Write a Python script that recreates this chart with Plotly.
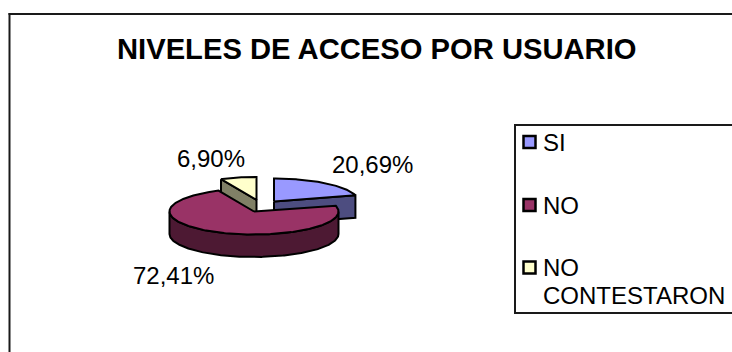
import math
import plotly.graph_objects as go

# Survey answers on access levels, in percent
categories = ["SI", "NO", "NO CONTESTARON"]
values = [20.69, 72.41, 6.90]
value_labels = ["20,69%", "72,41%", "6,90%"]
title_text = "NIVELES DE ACCESO POR USUARIO"

# Styling per slice: top face and side wall
top_colors = ["#9999FF", "#993366", "#FFFFCC"]
side_colors = ["#4D4D80", "#4D1933", "#808066"]

# Projection of the pie disc in page pixels
RX, RY, DEPTH = 84.5, 23, 22.5
# Slice apex after the explode offset
APEX = {"SI": (274, 201.5), "NO": (254, 211.5), "NO CONTESTARON": (256.5, 200)}
LINE = dict(color="black", width=2)


def rim(cx, cy, a0, a1, dy=0.0):
    """Points on the elliptical rim; angles run clockwise from 12 o'clock."""
    n = max(2, int(abs(a1 - a0)) + 1)
    angles = [math.radians(a0 + (a1 - a0) * i / (n - 1)) for i in range(n)]
    return ([cx + RX * math.sin(a) for a in angles],
            [cy - RY * math.cos(a) + dy for a in angles])


def polygon(xs, ys, color):
    return go.Scatter(x=xs + xs[:1], y=ys + ys[:1], mode="lines", fill="toself",
                      fillcolor=color, line=LINE, hoverinfo="skip", showlegend=False)


# Accumulate slice angles from the values
spans = {}
start = 0.0
for name, v in zip(categories, values):
    end = start + v / sum(values) * 360
    spans[name] = (start, end)
    start = end

fig = go.Figure()

# Yellow slice: cut face first, then top
name = "NO CONTESTARON"
a0, a1 = spans[name]
cx, cy = APEX[name]
xs, ys = rim(cx, cy, a0, a0 + 0.001)
fig.add_trace(polygon([xs[0], cx, cx, xs[0]], [ys[0], cy, cy + DEPTH, ys[0] + DEPTH], side_colors[2]))
xs, ys = rim(cx, cy, a0, a1)
fig.add_trace(polygon([cx] + xs, [cy] + ys, top_colors[2]))

# Blue slice: cut face plus outer wall, then top
name = "SI"
a0, a1 = spans[name]
cx, cy = APEX[name]
xs, ys = rim(cx, cy, a1, a1 + 0.001)
fig.add_trace(polygon([cx, xs[0], xs[0], cx], [cy, ys[0], ys[0] + DEPTH, cy + DEPTH], side_colors[0]))
xs, ys = rim(cx, cy, a0, a1)
fig.add_trace(polygon([cx] + xs, [cy] + ys, top_colors[0]))

# Large slice: front wall, then top
name = "NO"
a0, a1 = spans[name]
cx, cy = APEX[name]
xs, ys = rim(cx, cy, 90, 270)
xb, yb = rim(cx, cy, 270, 90, DEPTH)
fig.add_trace(polygon(xs + xb, ys + yb, side_colors[1]))
xs, ys = rim(cx, cy, a0, a1)
fig.add_trace(polygon([cx] + xs, [cy] + ys, top_colors[1]))

# Legend keys
key_y = [142, 205, 267.5]
fig.add_trace(go.Scatter(
    x=[529.5] * 3, y=key_y, mode="markers", hoverinfo="skip", showlegend=False,
    marker=dict(symbol="square", size=12, color=top_colors, line=dict(color="black", width=2.5)),
))

FONT = "Liberation Sans, Arial, sans-serif"
annotations = [
    dict(x=372.5, y=164, text=value_labels[0]),
    dict(x=173.5, y=275, text=value_labels[1]),
    dict(x=210.5, y=158, text=value_labels[2]),
]
for a in annotations:
    a.update(xanchor="center", yanchor="middle")
annotations += [
    dict(x=541, y=142, text=categories[0], xanchor="left", yanchor="middle"),
    dict(x=541, y=205, text=categories[1], xanchor="left", yanchor="middle"),
    dict(x=541, y=267.5, text="NO", xanchor="left", yanchor="middle"),
    dict(x=541, y=295, text="CONTESTARON", xanchor="left", yanchor="middle"),
    dict(x=377, y=49, text="<b>%s</b>" % title_text, xanchor="center", yanchor="middle",
         font=dict(size=29.2, color="black", family=FONT)),
]
for a in annotations:
    a.setdefault("font", dict(size=24, color="black", family=FONT))
    a.update(showarrow=False, xref="x", yref="y")

frame = dict(color="#1A1A1A", width=2)
fig.update_layout(
    width=732, height=352, margin=dict(l=0, r=0, t=0, b=0),
    paper_bgcolor="white", plot_bgcolor="white", showlegend=False,
    xaxis=dict(range=[0, 732], visible=False, fixedrange=True),
    yaxis=dict(range=[352, 0], visible=False, fixedrange=True),
    annotations=annotations,
    shapes=[
        dict(type="line", x0=8.5, x1=732, y0=14, y1=14, line=frame, layer="below"),
        dict(type="line", x0=9.5, x1=9.5, y0=13, y1=352, line=frame, layer="below"),
        dict(type="line", x0=515, x1=732, y0=125, y1=125, line=frame, layer="below"),
        dict(type="line", x0=515, x1=732, y0=313, y1=313, line=frame, layer="below"),
        dict(type="line", x0=515, x1=515, y0=124, y1=314, line=frame, layer="below"),
    ],
)
fig.write_html("out.html")
